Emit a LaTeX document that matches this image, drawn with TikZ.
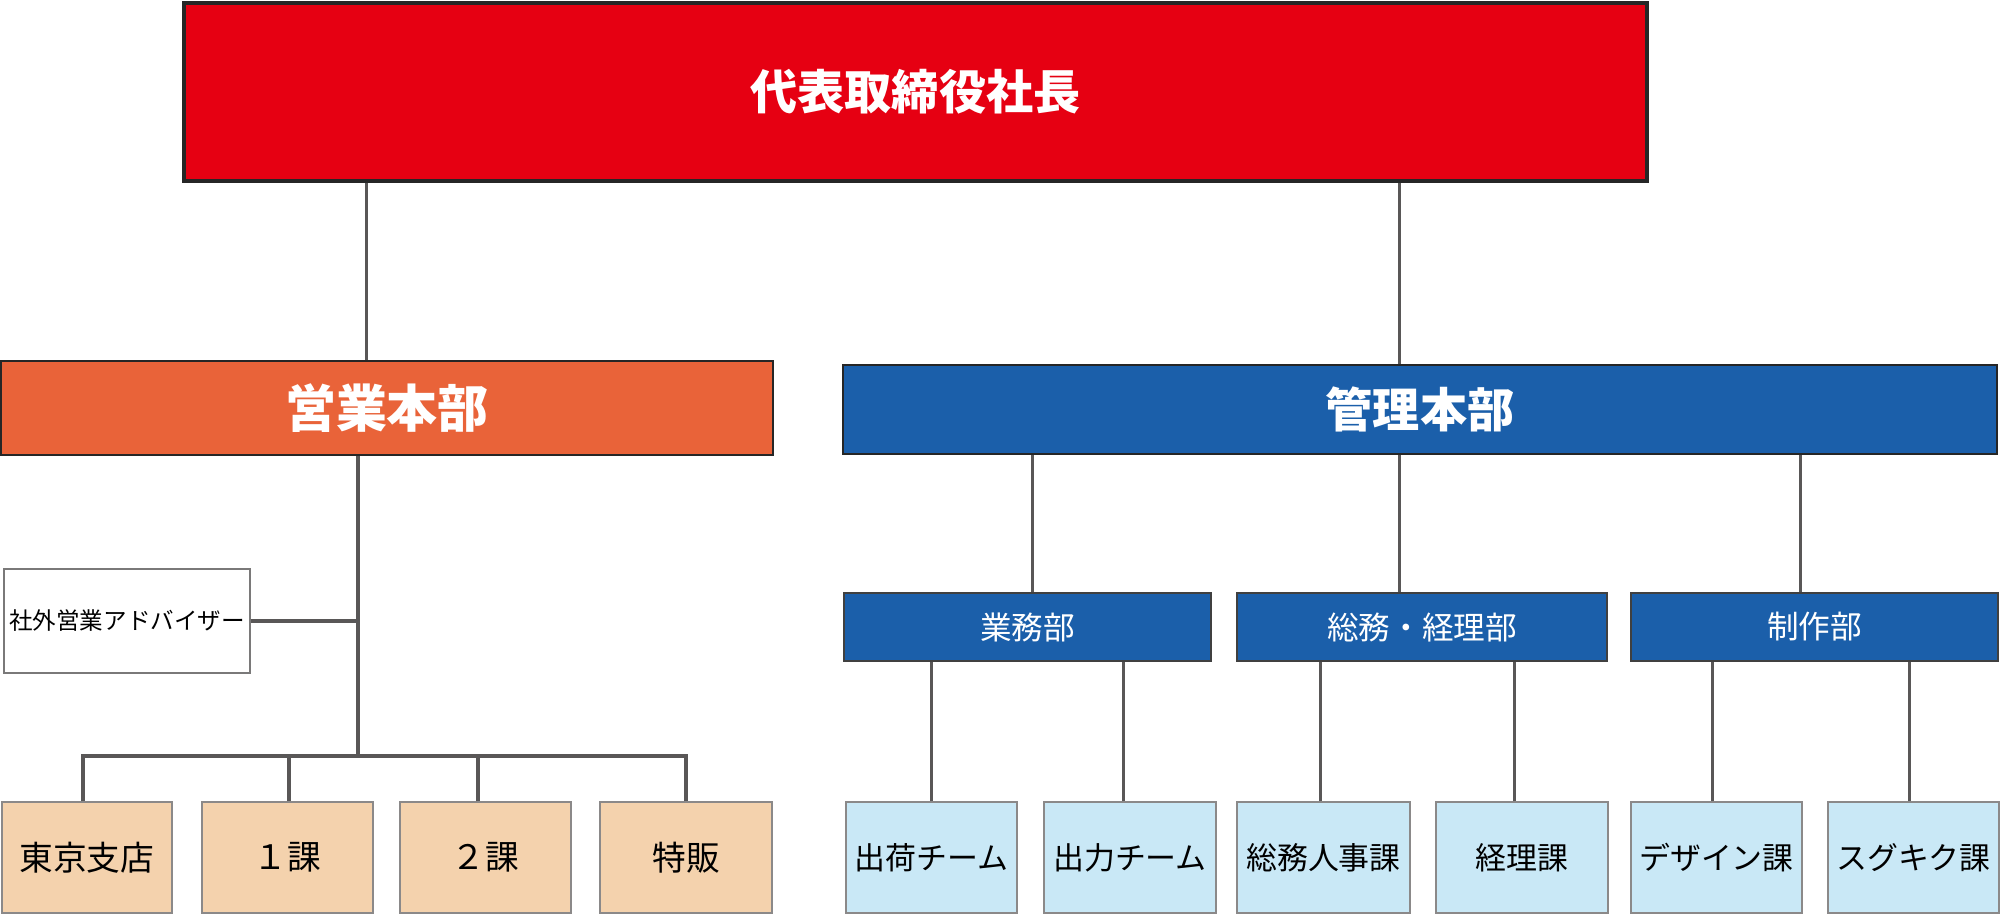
\documentclass[tikz,border=0pt]{standalone}
\usepackage{fontspec}
\setmainfont{Noto Sans CJK JP}
\usepackage{tikz}

\definecolor{ceored}{HTML}{E60012}
\definecolor{eigyoorange}{HTML}{E96339}
\definecolor{kanriblue}{HTML}{1B5FAA}
\definecolor{kablue}{HTML}{C9E8F6}
\definecolor{kabeige}{HTML}{F4D2AD}
\definecolor{linegray}{HTML}{595757}

\begin{document}
\begin{tikzpicture}[x=0.1mm,y=-0.1mm,
  box/.style={draw,inner sep=0pt,align=center},
  head/.style={box,text=white,draw=black!85,line width=0.25mm,font=\bfseries\fontsize{13.4}{15}\selectfont},
  dept/.style={box,fill=kanriblue,draw=black!75,line width=0.2mm,text=white,
    minimum width=36.7mm,minimum height=6.8mm,font=\fontsize{9}{11}\selectfont},
  sect/.style={box,draw=linegray!70,line width=0.15mm,minimum width=17.1mm,
    minimum height=11.1mm,font=\fontsize{8.8}{10}\selectfont},
  conn/.style={draw=linegray,line width=0.3mm}]
\useasboundingbox (0,0) rectangle (2000,916);
% top
\node[head,fill=ceored,line width=0.35mm,minimum width=146.3mm,minimum height=17.8mm] (ceo) at (915.5,92) {代表取締役社長};
% headquarters
\node[head,fill=eigyoorange,minimum width=77.2mm,minimum height=9.4mm,font=\bfseries\fontsize{14.5}{16}\selectfont] (eigyo) at (387,408) {営業本部};
\node[head,fill=kanriblue,minimum width=115.4mm,minimum height=8.9mm] (kanri) at (1420,409.5) {管理本部};
\path (eigyo.north) ++(-21,0) coordinate (top);
\draw[conn] (top) -- (top |- ceo.south);
\path (kanri.north) ++(-21,0) coordinate (top);
\draw[conn] (top) -- (top |- ceo.south);
% sales side
\node[box,draw=linegray!80,line width=0.15mm,minimum width=24.6mm,minimum height=10.4mm,font=\fontsize{6.7}{8}\selectfont] (advisor) at (127,621) {社外営業アドバイザー};
\node[sect,fill=kabeige,minimum width=17mm,font=\fontsize{9.6}{11}\selectfont] (tokyo) at (87,857.5) {東京支店};
\node[sect,fill=kabeige,font=\fontsize{9.6}{11}\selectfont] (ka1) at (287.5,857.5) {１課};
\node[sect,fill=kabeige,font=\fontsize{9.6}{11}\selectfont] (ka2) at (485.5,857.5) {２課};
\node[sect,fill=kabeige,minimum width=17.2mm,font=\fontsize{9.6}{11}\selectfont] (tokuhan) at (686,857.5) {特販};
\coordinate (junc) at (358,756);
\draw[conn,line width=0.4mm] (junc |- eigyo.south) -- (junc);
\draw[conn,line width=0.4mm] (advisor.east) -- (advisor.east -| junc);
\foreach \n/\dx in {tokyo/-4,ka1/1.5,ka2/-7.5,tokuhan/0}{
  \path (\n.north) ++(\dx,0) coordinate (top);
  \draw[conn,line width=0.4mm] (top) |- (junc);
}
% admin side
\node[dept] (gyomu) at (1027.5,627) {業務部};
\node[dept,minimum width=37mm] (somu) at (1422,627) {総務・経理部};
\node[dept] (seisaku) at (1814.5,627) {制作部};
\foreach \n/\dx in {gyomu/4.5,somu/-23,seisaku/-14.5}{
  \path (\n.north) ++(\dx,0) coordinate (top);
  \draw[conn] (top) -- (top |- kanri.south);
}
\node[sect,fill=kablue] (shukka) at (931.5,857.5) {出荷チーム};
\node[sect,fill=kablue,minimum width=17.2mm] (shutsu) at (1130,857.5) {出力チーム};
\node[sect,fill=kablue,minimum width=17.3mm] (jinji) at (1323.5,857.5) {総務人事課};
\node[sect,fill=kablue,minimum width=17.2mm] (keiri) at (1522,857.5) {経理課};
\node[sect,fill=kablue] (design) at (1716.5,857.5) {デザイン課};
\node[sect,fill=kablue] (sgkk) at (1913.5,857.5) {スグキク課};
\foreach \n/\p/\dx in {shukka/gyomu/0,shutsu/gyomu/-7,jinji/somu/-3.5,keiri/somu/-8,design/seisaku/-4.5,sgkk/seisaku/-4.5}{
  \path (\n.north) ++(\dx,0) coordinate (top);
  \draw[conn] (top) -- (top |- \p.south);
}
\end{tikzpicture}
\end{document}
